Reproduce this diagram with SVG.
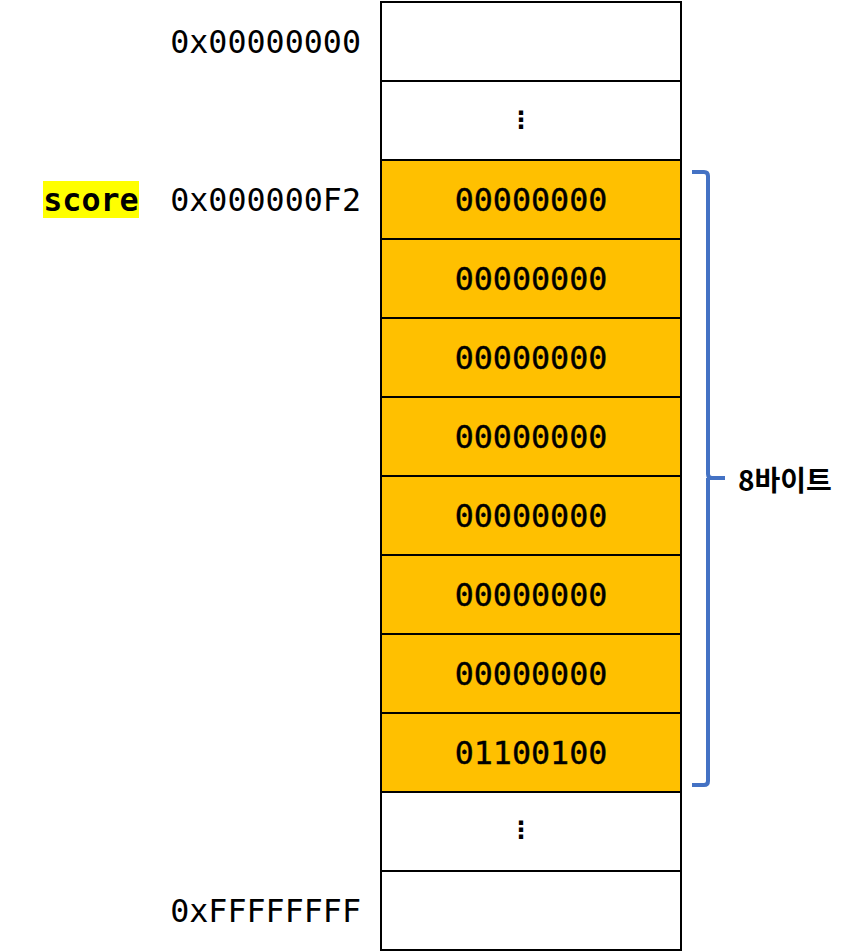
<svg xmlns="http://www.w3.org/2000/svg" width="848" height="952" viewBox="0 0 848 952">
<style>
.cell{stroke:#000;stroke-width:2;fill:#fff}
.on{fill:#FFC000}
.mono{font-family:"DejaVu Sans Mono",monospace;font-size:31.7px;fill:#000}
.val{text-anchor:middle;stroke:#000;stroke-width:0.4}
.addr{text-anchor:end}
.dots{font-family:"DejaVu Sans",sans-serif;font-size:24px;text-anchor:middle;font-weight:bold}
</style>
<rect width="848" height="952" fill="#fff"/>
<g id="memory">
<rect id="r0" class="cell" x="381" y="2" width="300" height="79"/>
<rect id="r1" class="cell" x="381" y="81" width="300" height="79"/>
<rect id="r2" class="cell on" x="381" y="160" width="300" height="79"/>
<rect id="r3" class="cell on" x="381" y="239" width="300" height="79"/>
<rect id="r4" class="cell on" x="381" y="318" width="300" height="79"/>
<rect id="r5" class="cell on" x="381" y="397" width="300" height="79"/>
<rect id="r6" class="cell on" x="381" y="476" width="300" height="79"/>
<rect id="r7" class="cell on" x="381" y="555" width="300" height="79"/>
<rect id="r8" class="cell on" x="381" y="634" width="300" height="79"/>
<rect id="r9" class="cell on" x="381" y="713" width="300" height="79"/>
<rect id="r10" class="cell" x="381" y="792" width="300" height="79"/>
<rect id="r11" class="cell" x="381" y="871" width="300" height="79"/>
</g>
<g id="values">
<text class="dots" x="521" y="128">⋮</text>
<text class="mono val" x="531" y="211">00000000</text>
<text class="mono val" x="531" y="290">00000000</text>
<text class="mono val" x="531" y="369">00000000</text>
<text class="mono val" x="531" y="448">00000000</text>
<text class="mono val" x="531" y="527">00000000</text>
<text class="mono val" x="531" y="606">00000000</text>
<text class="mono val" x="531" y="685">00000000</text>
<text class="mono val" x="531" y="764">01100100</text>
<text class="dots" x="521" y="838">⋮</text>
</g>
<g id="addresses">
<text class="mono addr" x="361" y="53">0x00000000</text>
<text class="mono addr" x="361" y="211">0x000000F2</text>
<text class="mono addr" x="361" y="922">0xFFFFFFFF</text>
</g>
<g id="score">
<rect x="43" y="181" width="96" height="37" fill="#FFFF00"/>
<text class="mono" x="91" y="211" font-weight="bold" text-anchor="middle">score</text>
</g>
<g id="connectors">
<path d="M692 172 H704 Q708 172 708 176 V474 Q708 478 712 478 H725 M708 478 Q708 478 708 482 V781 Q708 785 704 785 H692" fill="none" stroke="#4472C4" stroke-width="4"/>
</g>
<g id="label">
<text x="738" y="491" font-family="'Noto Sans CJK KR',sans-serif" font-weight="bold" font-size="28px" fill="#000">8바이트</text>
</g>
</svg>
